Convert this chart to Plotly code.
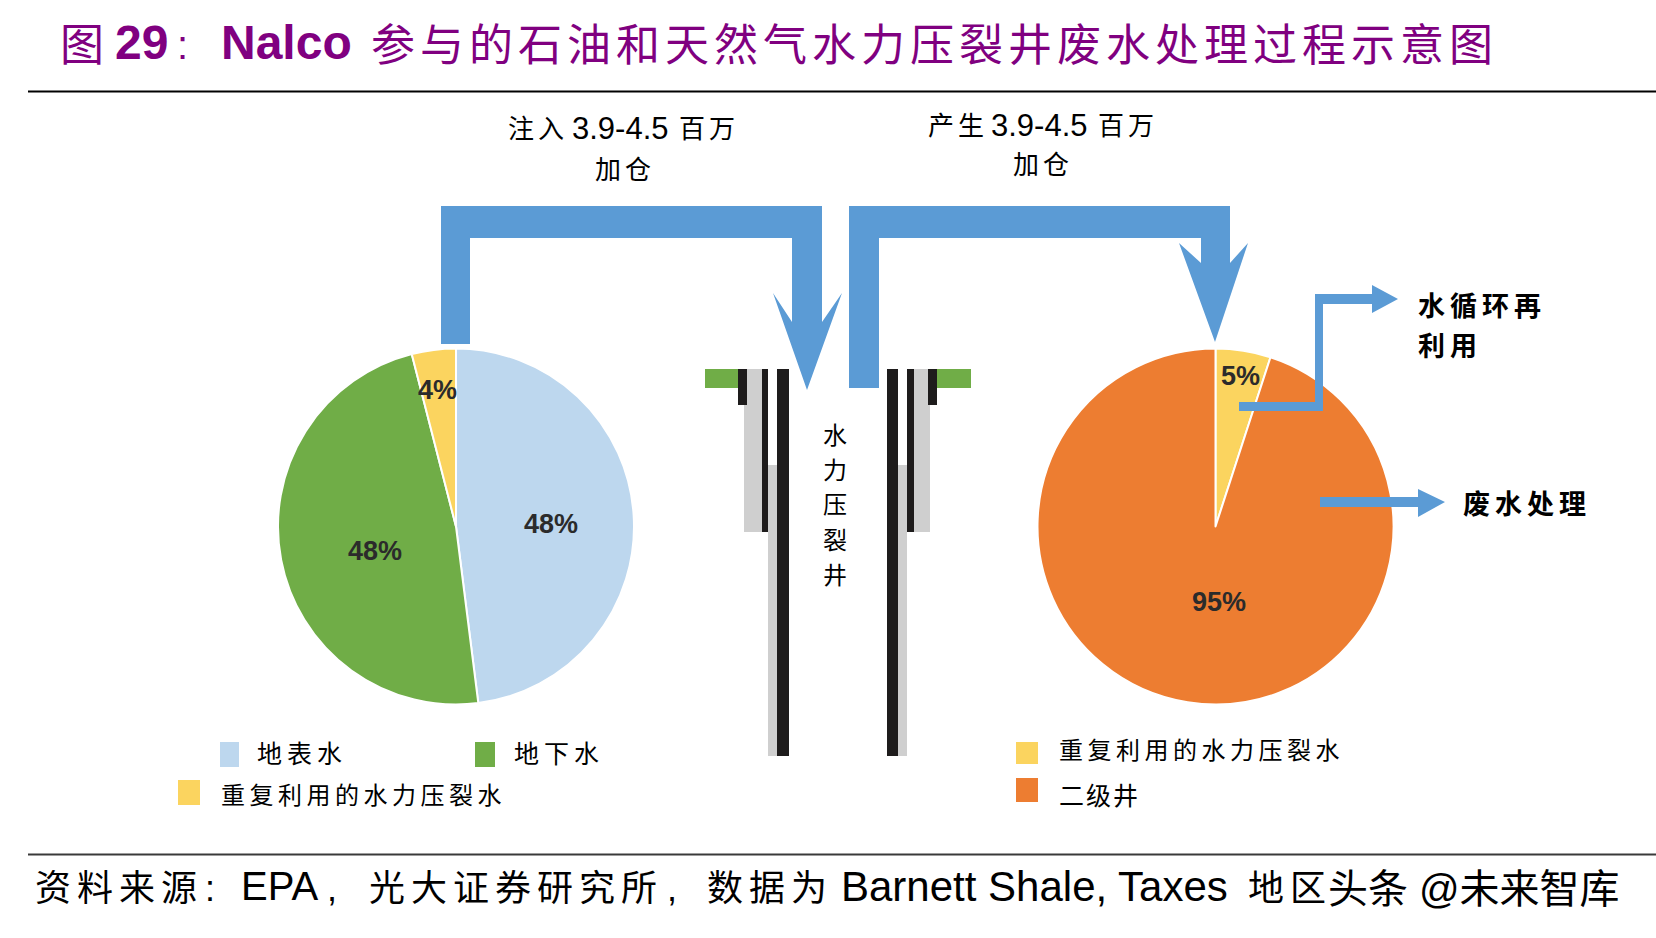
import plotly.graph_objects as go

W, H = 1656, 938

# pie data
left_labels = ["地表水", "地下水", "重复利用的水力压裂水"]
left_values = [48, 48, 4]
right_labels = ["重复利用的水力压裂水", "二级井"]
right_values = [5, 95]

BLUE = "#5B9BD5"
LIGHT_BLUE = "#BDD7EE"
GREEN = "#70AD47"
YELLOW = "#FBD45F"
ORANGE = "#ED7D31"
PURPLE = "#800080"
GRAY = "#CFCFCF"
BLACK = "#1E1C1C"
FONT = "Liberation Sans, Noto Sans CJK SC"


def px(x):
    return x / W


def py(y):
    return 1 - y / H


fig = go.Figure()


def add_pie(labels, values, colors, cx, cy, r):
    fig.add_trace(go.Pie(
        labels=labels, values=values, sort=False, direction="clockwise", rotation=0,
        textinfo="none", showlegend=False,
        marker=dict(colors=colors, line=dict(color="white", width=2)),
        domain=dict(x=[px(cx - r), px(cx + r)], y=[py(cy + r), py(cy - r)]),
    ))


add_pie(left_labels, left_values, [LIGHT_BLUE, GREEN, YELLOW], 456, 526.5, 178)
add_pie(right_labels, right_values, [YELLOW, ORANGE], 1215.5, 526.5, 178)


def text(x, y, s, size, color="black", anchor="left", spacing=0, bold=False):
    if spacing:
        s = f'<span style="letter-spacing:{spacing}px">{s}</span>'
    if bold:
        s = f"<b>{s}</b>"
    fig.add_annotation(xref="paper", yref="paper", x=px(x), y=py(y), text=s, showarrow=False,
                       xanchor=anchor, yanchor="middle", align=anchor,
                       borderpad=0, font=dict(family=FONT, size=size, color=color))


def rect(x0, y0, x1, y1, color):
    fig.add_shape(type="rect", xref="paper", yref="paper", x0=px(x0), x1=px(x1), y0=py(y0), y1=py(y1),
                  fillcolor=color, line_width=0)


def poly(points, color):
    path = "M " + " L ".join(f"{px(x)},{py(y)}" for x, y in points) + " Z"
    fig.add_shape(type="path", xref="paper", yref="paper", path=path, fillcolor=color, line_width=0)


def rule(y, color, width):
    fig.add_shape(type="line", xref="paper", yref="paper", x0=px(28), x1=1, y0=py(y), y1=py(y),
                  line=dict(color=color, width=width))


# title and rules
text(59, 45, "图", 44, PURPLE)
text(114, 43, "<b>29</b>", 48, PURPLE)
text(176, 45, ":", 40, PURPLE)
text(220, 43, "<b>Nalco</b>", 48, PURPLE)
text(370, 45, "参与的石油和天然气水力压裂井废水处理过程示意图", 44, PURPLE, spacing=5)
rule(91.5, "black", 2)
rule(854.5, "#3A3A3A", 2)

# inflow arrow
poly([(441, 344), (441, 206), (822, 206), (822, 322), (842, 293), (807, 390), (773, 293), (792, 322),
      (792, 238), (470, 238), (470, 344)], BLUE)
# outflow arrow
poly([(849, 388), (849, 206), (1230, 206), (1230, 263), (1248, 243), (1215, 342), (1179, 243), (1201, 263),
      (1201, 238), (879, 238), (879, 388)], BLUE)
# recycle arrow
poly([(1239, 402), (1315, 402), (1315, 294), (1372, 294), (1372, 285), (1398, 299), (1372, 313), (1372, 304),
      (1323, 304), (1323, 411), (1239, 411)], BLUE)
# waste arrow
poly([(1320, 497), (1418, 497), (1418, 489), (1445, 502), (1418, 517), (1418, 507), (1320, 507)], BLUE)

# well schematic, left side
rect(705, 369, 738, 388, GREEN)
rect(744, 369, 762, 532, GRAY)
rect(768, 465, 777, 756, GRAY)
rect(738, 369, 747, 405, BLACK)
rect(762, 369, 768, 532, BLACK)
rect(777, 369, 789, 756, BLACK)
# well schematic, right side
rect(937, 369, 971, 388, GREEN)
rect(914, 369, 930, 532, GRAY)
rect(898, 465, 907, 756, GRAY)
rect(928, 369, 937, 405, BLACK)
rect(907, 369, 914, 532, BLACK)
rect(887, 369, 898, 756, BLACK)

# flow labels
text(507, 129, "注入", 26, spacing=4)
text(571, 129, "3.9-4.5", 31)
text(678, 129, "百万", 26, spacing=4)
text(625, 170, "加仓", 26, anchor="center", spacing=4)
text(927, 126, "产生", 26, spacing=4)
text(990, 126, "3.9-4.5", 31)
text(1097, 126, "百万", 26, spacing=4)
text(1043, 165, "加仓", 26, anchor="center", spacing=4)
for i, ch in enumerate("水力压裂井"):
    text(835, 435 + i * 35, ch, 24, anchor="center")
text(1417, 307, "水循环再", 27, spacing=5, bold=True)
text(1417, 347, "利用", 27, spacing=5, bold=True)
text(1462, 505, "废水处理", 27, spacing=5, bold=True)

# slice percentages
for x, y, v in [(551, 524, left_values[0]), (375, 551, left_values[1]), (437, 390, left_values[2]),
                (1240, 376, right_values[0]), (1219, 602, right_values[1])]:
    text(x, y, f"{v}%", 27, "#2B2B2B", anchor="center", bold=True)

# hand placed legends
rect(220, 742, 239, 767, LIGHT_BLUE)
text(256, 754, left_labels[0], 25, spacing=5)
rect(475, 742, 495, 767, GREEN)
text(513, 754, left_labels[1], 25, spacing=5)
rect(178, 780, 200, 805, YELLOW)
text(220, 795, left_labels[2], 24, spacing=4.5)
rect(1016, 742, 1038, 764, YELLOW)
text(1058, 750, right_labels[0], 24, spacing=4.5)
rect(1016, 778, 1038, 802, ORANGE)
text(1058, 796, right_labels[1], 25, spacing=2)

# source line
text(34, 888, "资料来源", 36, spacing=6)
text(204, 888, ":", 36)
text(240, 886, "EPA", 40)
text(326, 888, ",", 36)
text(368, 888, "光大证券研究所", 36, spacing=6)
text(666, 888, ",", 36)
text(706, 888, "数据为", 36, spacing=6)
text(840, 886, "Barnett Shale, Taxes", 42)
text(1247, 888, "地区", 36, spacing=6)
text(1327, 889, "头条", 40)
text(1418, 889, "@未来智库", 40)

fig.update_layout(
    width=W, height=H, margin=dict(l=0, r=0, t=0, b=0),
    paper_bgcolor="white", plot_bgcolor="white",
    font=dict(family=FONT),
)

fig.write_html("out.html", config=dict(displayModeBar=False), post_script="document.body.style.margin='0';")
